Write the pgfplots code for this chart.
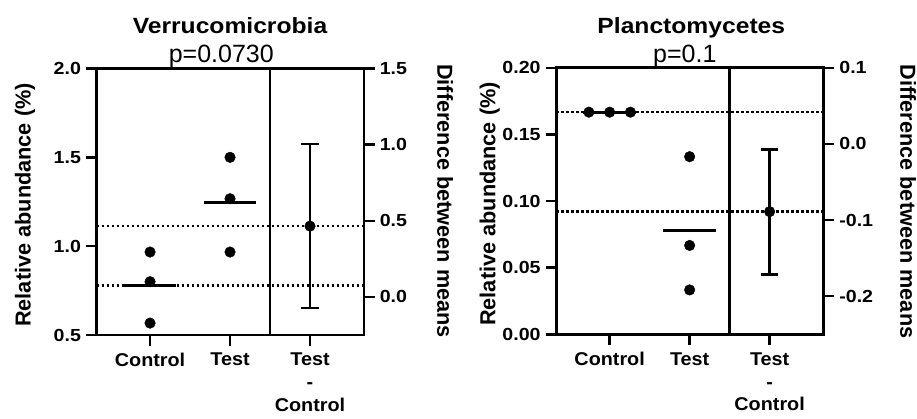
\documentclass[border=0pt]{standalone}
\usepackage{fontspec}
\setmainfont{Liberation Sans}
\usepackage{pgfplots}
\pgfplotsset{compat=1.18}
\begin{document}
\begin{tikzpicture}[x=1pt,y=1pt]
\path[use as bounding box] (0,0) rectangle (917,418);
\pgfplotsset{
  panel/.style={scale only axis, width=267.3pt, height=266.5pt,
    xmin=0.333, xmax=3.675, clip=false,
    line width=2.7pt,
    axis line style={line width=2.7pt, -},
    every tick/.style={black, line width=2.5pt},
    major tick length=10.5pt,
    tick align=outside,
    /pgf/number format/assume math mode=true,
    yticklabel style={font=\fontsize{17.5}{20}\selectfont\bfseries, xscale=1.12},
    xticklabel style={font=\fontsize{18.5}{22.8}\selectfont\bfseries, xscale=1.07, align=center, yshift=-3pt},
  },
  leftax/.style={panel, xtick={1,2,3}, xticklabels={Control,Test,{Test\\-\\Control}},
    xtick pos=bottom, ytick pos=left},
  rightax/.style={panel, axis x line=none, axis y line*=right},
  pts/.style={only marks, mark=*, mark size=5.3pt, black, line width=0.4pt},
  meanl/.style={black, line width=2.7pt, no marks},
  divl/.style={black, line width=2.7pt, no marks},
  barl/.style={black, line width=2.6pt, no marks},
  dotl/.style={black, line width=2.3pt, dash pattern=on 2.3pt off 2.7pt, no marks},
}
% ---------- Verrucomicrobia ----------
\begin{axis}[leftax, at={(96.7pt,83pt)}, anchor=south west,
  ymin=0.5, ymax=2.0, ytick={0.5,1,1.5,2},
  yticklabel style={/pgf/number format/.cd, fixed, fixed zerofill, precision=1}]
\addplot[dotl] coordinates {(0.333,0.778) (3.675,0.778)};
\addplot[divl] coordinates {(2.5,0.5) (2.5,2.0)};
\addplot[meanl] coordinates {(0.67,0.778) (1.33,0.778)};
\addplot[meanl] coordinates {(1.67,1.244) (2.33,1.244)};
\addplot[pts] coordinates {(1,0.967) (1,0.800) (1,0.567)};
\addplot[pts] coordinates {(2,1.500) (2,1.267) (2,0.967)};
\end{axis}
\begin{axis}[rightax, at={(96.7pt,83pt)}, anchor=south west,
  ymin=-0.25, ymax=1.5, ytick={0,0.5,1,1.5},
  yticklabel style={/pgf/number format/.cd, fixed, fixed zerofill, precision=1}]
\addplot[dotl] coordinates {(0.333,0.465) (3.675,0.465)};
\addplot[barl] coordinates {(3,-0.072) (3,1.003)};
\addplot[barl] coordinates {(2.89,1.003) (3.11,1.003)};
\addplot[barl] coordinates {(2.89,-0.072) (3.11,-0.072)};
\addplot[pts] coordinates {(3,0.465)};
\end{axis}
% ---------- Planctomycetes ----------
\begin{axis}[leftax, at={(556.3pt,83.7pt)}, anchor=south west,
  ymin=0, ymax=0.2, ytick={0,0.05,0.1,0.15,0.2},
  yticklabel style={/pgf/number format/.cd, fixed, fixed zerofill, precision=2}]
\addplot[dotl] coordinates {(0.333,0.1667) (3.675,0.1667)};
\addplot[divl] coordinates {(2.5,0) (2.5,0.2)};
\addplot[meanl] coordinates {(0.67,0.1667) (1.33,0.1667)};
\addplot[meanl] coordinates {(1.67,0.0778) (2.33,0.0778)};
\addplot[pts] coordinates {(0.74,0.1667) (1,0.1667) (1.26,0.1667)};
\addplot[pts] coordinates {(2,0.1333) (2,0.0667) (2,0.0333)};
\end{axis}
\begin{axis}[rightax, at={(556.3pt,83.7pt)}, anchor=south west,
  ymin=-0.25, ymax=0.1, ytick={-0.2,-0.1,0,0.1},
  yticklabel style={/pgf/number format/.cd, fixed, fixed zerofill, precision=1}]
\addplot[dotl] coordinates {(0.333,-0.0889) (3.675,-0.0889)};
\addplot[barl] coordinates {(3,-0.1717) (3,-0.0074)};
\addplot[barl] coordinates {(2.89,-0.0074) (3.11,-0.0074)};
\addplot[barl] coordinates {(2.89,-0.1717) (3.11,-0.1717)};
\addplot[pts] coordinates {(3,-0.0889)};
\end{axis}
% ---------- titles and labels ----------
\node[anchor=base, font=\fontsize{22}{26}\selectfont\bfseries, xscale=1.12] at (230,384.7) {Verrucomicrobia};
\node[anchor=base, font=\fontsize{25}{30}\selectfont] at (221.3,355.7) {p=0.0730};
\node[anchor=base, font=\fontsize{22}{26}\selectfont\bfseries, xscale=1.12] at (691.3,384.7) {Planctomycetes};
\node[anchor=base, font=\fontsize{25}{30}\selectfont] at (684.8,355.2) {p=0.1};
\node[rotate=90, font=\fontsize{21.7}{26}\selectfont\bfseries] at (25,213) {Relative abundance (\%)};
\node[rotate=-90, font=\fontsize{21.7}{26}\selectfont\bfseries] at (445,217) {Difference between means};
\node[rotate=90, font=\fontsize{21.7}{26}\selectfont\bfseries] at (489.7,214) {Relative abundance (\%)};
\node[rotate=-90, font=\fontsize{21.7}{26}\selectfont\bfseries] at (908,216.5) {Difference between means};
\end{tikzpicture}
\end{document}
